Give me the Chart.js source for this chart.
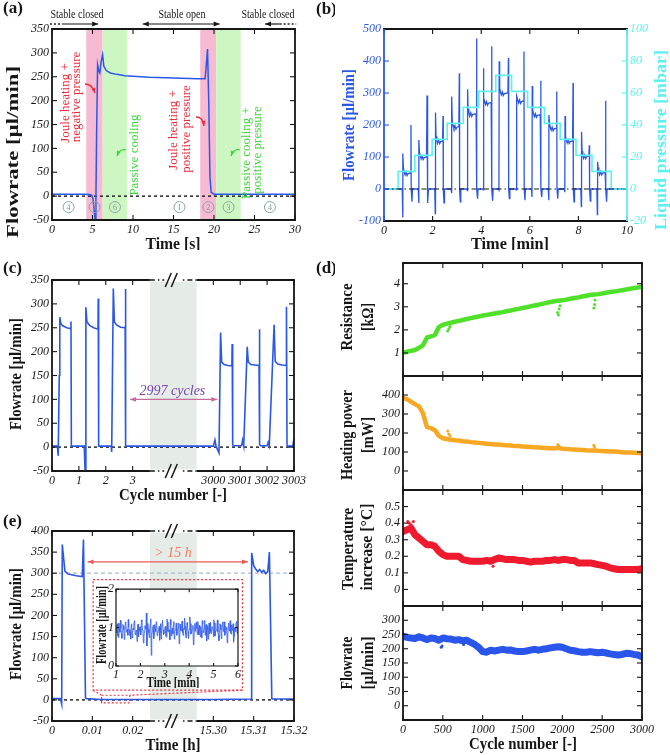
<!DOCTYPE html>
<html>
<head>
<meta charset="utf-8">
<title>Valve flowrate figure</title>
<script src="https://cdn.jsdelivr.net/npm/chart.js@4.4.1/dist/chart.umd.min.js"></script>
<style>
  html, body { margin: 0; padding: 0; background: #fff; }
  body { position: relative; width: 670px; height: 755px; overflow: hidden; }
  canvas { position: absolute; }
</style>
</head>
<body>
<script>
// ---------- (a) one open / close cycle
const aTime = [0, 2, 4, 4.6, 4.9, 5.05, 5.2, 5.33, 5.42, 5.5, 5.63, 5.78, 5.9, 6.05, 6.25, 6.4, 6.7, 7.2, 8, 9,
               10, 12, 14, 16, 18, 18.9, 19.05, 19.2, 19.35, 19.5, 19.65, 20, 22, 26, 30];
const aFlow = [4, 4, 4, 3.5, 2, -5, -30, -50, -10, 120, 275, 262, 258, 280, 296, 272, 263, 258, 255, 252,
               251, 249, 248, 247, 246, 246, 275, 308, 200, 40, 8, 4, 4, 4, 4];
const aHeat = [[4.23, 6.25], [18.3, 20.26]];
const aCool = [[6.25, 9.25], [20.26, 23.3]];
const aPhaseT = [2.05, 5.26, 7.77, 15.74, 19.3, 21.8, 26.9];
const aPhaseN = ['4', '5', '6', '1', '2', '3', '4'];

// ---------- (b) pressure staircase, one valve cycle per step
const bPTime = [0, 0.58, 1.27, 1.98, 2.6, 3.26, 3.9, 4.6, 5.25, 5.91, 6.6, 7.25, 7.9, 8.56, 9.35, 10];
const bPres  = [0, 11, 21, 31, 41, 51, 61, 71, 61, 51, 41, 31, 21, 11, 0, 0];
const bOpen      = [0.78, 1.44, 2.12, 2.79, 3.44, 4.09, 4.74, 5.45, 6.10, 6.79, 7.45, 8.13, 8.79];
const bClose     = [1.11, 1.77, 2.43, 3.10, 3.81, 4.43, 5.12, 5.76, 6.45, 7.11, 7.78, 8.45, 9.12];
const bOpenPeak  = [111, 153, 239, 289, 312, 377, 399, 290, 322, 231, 228, 179, 85];
const bClosePeak = [200, 292, 228, 362, 470, 446, 409, 430, 338, 305, 331, 137, 276];
const bLevel     = [50, 100, 150, 195, 235, 270, 300, 275, 232, 190, 150, 103, 52];
const bOpenNeg   = [-89, -44, -77, -13, -5, -3, -3, -3, -25, -35, -10, -55, -80];
const bCloseNeg  = [-40, -44, -43, -40, -30, -37, -30, -35, -25, -30, -40, -38, -40];

// ---------- (c) first and last cycles (cycle number)
const cCyc = [0, 0.2, 0.23, 0.27, 0.29, 0.33, 0.4, 0.55, 0.7, 0.706, 0.72, 0.74,
              1.2, 1.23, 1.26, 1.3, 1.4, 1.55, 1.71, 1.72, 1.735, 1.76,
              2.2, 2.22, 2.28, 2.32, 2.4, 2.55, 2.72, 2.73, 2.745, 2.77,
              3000.0, 3000.06, 3000.1, 3000.21, 3000.27, 3000.31, 3000.4, 3000.55, 3000.69, 3000.70, 3000.72, 3000.75,
              3001.05, 3001.09, 3001.13, 3001.26, 3001.3, 3001.4, 3001.55, 3001.70, 3001.71, 3001.73, 3001.76,
              3002.0, 3002.04, 3002.08, 3002.26, 3002.3, 3002.4, 3002.55, 3002.71, 3002.72, 3002.74, 3002.77,
              3002.95, 3003.0];
const cFlow = [2, 2, -18, 150, 272, 258, 254, 250, 248, 263, 2, 2,
               2, -50, 293, 262, 255, 250, 247, 311, 2, 2,
               2, -10, 332, 262, 256, 251, 250, 331, 2, 2,
               2, 15, 2, -12, 240, 178, 173, 171, 170, 216, 5, 3,
               3, 15, 3, 210, 178, 173, 172, 171, 247, 5, 3,
               3, 10, 3, 256, 180, 174, 172, 171, 294, 4, 2,
               2, 18];
const cTicks = [0, 1, 2, 3, 3000, 3001, 3002, 3003];

// ---------- (d) long-term evolution, every 50 cycles
const dCycles = [];
for (let n = 0; n <= 3000; n += 50) dCycles.push(n);
const dRes = [1.00, 1.05, 1.09, 1.13, 1.22, 1.33, 1.66, 1.72, 1.78, 2.12,
              2.22, 2.27, 2.31, 2.35, 2.39, 2.43, 2.47, 2.51, 2.55, 2.58,
              2.62, 2.65, 2.68, 2.71, 2.74, 2.77, 2.81, 2.84, 2.88, 2.91,
              2.95, 2.98, 3.02, 3.06, 3.09, 3.13, 3.17, 3.21, 3.24, 3.26,
              3.28, 3.31, 3.35, 3.38, 3.41, 3.45, 3.48, 3.51, 3.53, 3.55,
              3.58, 3.61, 3.64, 3.66, 3.69, 3.72, 3.75, 3.78, 3.81, 3.84, 3.87];
const dResOutC = [560, 575, 590, 1940, 1950, 1960, 1970, 2395, 2405, 2410];
const dResOutV = [1.95, 2.05, 2.15, 2.75, 2.65, 2.9, 3.05, 2.95, 3.1, 3.3];
const dPow = [385, 378, 365, 352, 340, 305, 232, 226, 215, 185,
              172, 168, 165, 162, 160, 157, 155, 152, 150, 148,
              146, 144, 142, 140, 139, 137, 135, 134, 132, 131,
              129, 128, 126, 125, 124, 122, 121, 120, 119, 122,
              117, 116, 114, 113, 112, 111, 109, 108, 108, 106,
              105, 104, 103, 102, 101, 99, 98, 97, 96, 95, 93];
const dPowOutC = [560, 575, 590, 1945, 1955, 1965, 2395, 2405];
const dPowOutV = [210, 195, 185, 140, 132, 128, 135, 125];
const dTemp = [0.35, 0.36, 0.37, 0.33, 0.31, 0.29, 0.27, 0.27, 0.26, 0.23,
               0.21, 0.20, 0.20, 0.20, 0.20, 0.18, 0.175, 0.17, 0.17, 0.17,
               0.17, 0.175, 0.17, 0.18, 0.19, 0.185, 0.18, 0.18, 0.18, 0.175,
               0.175, 0.17, 0.165, 0.17, 0.17, 0.17, 0.175, 0.175, 0.18, 0.175,
               0.18, 0.18, 0.175, 0.175, 0.16, 0.16, 0.16, 0.16, 0.155, 0.15,
               0.145, 0.14, 0.13, 0.125, 0.12, 0.12, 0.12, 0.12, 0.12, 0.12, 0.125];
const dTempOutC = [60, 80, 100, 130, 1130];
const dTempOutV = [0.41, 0.40, 0.39, 0.41, 0.14];
const dFlow = [245, 240, 238, 236, 242, 238, 232, 238, 236, 230,
               238, 235, 234, 230, 232, 228, 230, 222, 215, 205,
               190, 188, 195, 192, 195, 198, 195, 196, 192, 190,
               190, 192, 195, 198, 195, 198, 200, 203, 205, 207,
               205, 200, 195, 193, 190, 188, 188, 190, 188, 186,
               188, 185, 182, 180, 178, 180, 184, 183, 180, 178, 172];
const dFlowOutC = [480, 490, 760, 780];
const dFlowOutV = [205, 210, 215, 225];

// ---------- (e) 15 h closed period (hours)
const eHours = [0, 0.0021, 0.0024, 0.00255, 0.0032, 0.004, 0.006, 0.0075, 0.0078, 0.0083, 0.0086, 0.012, 0.02,
                15.3, 15.3094, 15.3095, 15.3100, 15.3105, 15.311, 15.3115, 15.312, 15.3125, 15.313, 15.3135,
                15.3139, 15.3145, 15.3148, 15.32];
const eFlow = [3, 3, -10, 368, 305, 298, 294, 292, 380, 5, 3, 1, 1,
               1, 2, 348, 318, 310, 304, 309, 302, 307, 299, 304,
               350, 3, 2, 2];
const eTicks = [0, 0.01, 0.02, 15.30, 15.31, 15.32];
const eTickLabels = ['0', '0.01', '0.02', '15.30', '15.31', '15.32'];
// inset: leak flow while closed, 1..6 min (two interleaved sample sets)
const insetA = [0.92, 1.05, 0.78, 1.12, 0.88, 0.98, 0.72, 1.08, 0.95, 0.85, 1.15, 0.9, 0.8, 1.02, 0.96, 0.7, 1.1, 0.88,
                0.94, 1.18, 0.82, 0.9, 1.05, 0.76, 0.99, 0.87, 1.2, 0.93, 0.6, 0.9, 1.0, 1.38, 0.85, 0.95, 0.74, 1.1,
                0.28, 0.9, 1.06, 0.83, 0.97, 1.15, 0.79, 0.92, 1.03, 0.88, 0.7, 1.12, 0.94, 0.86, 1.0, 0.78, 1.22,
                0.9, 0.95, 0.68, 1.08, 0.92, 0.84, 1.16, 0.9, 1.0, 0.8, 0.96, 1.12, 0.74, 0.93, 1.05, 0.87, 0.98,
                1.25, 0.82, 0.9, 1.04, 0.72, 0.95, 1.1, 0.88, 0.96, 0.55, 1.0, 0.9, 1.14, 0.82, 0.97, 1.06, 0.76,
                0.92, 1.18, 0.88, 0.98, 0.8, 1.08, 0.93, 0.7, 1.12, 0.9, 0.85, 1.02, 0.95, 1.2, 0.78, 0.9, 1.05,
                0.88, 0.66, 1.1, 0.94, 0.86, 1.15, 0.9, 0.8, 1.03, 0.96, 0.72, 1.12, 0.91, 0.87, 1.07, 0.93, 0.62,
                1.0, 0.9, 1.16, 0.85];
const insetB = [0.86, 1.1, 0.74, 0.97, 1.19, 0.83, 0.91, 1.04, 0.69, 1.13, 0.88, 0.95, 1.21, 0.8, 0.9, 1.07, 0.73, 0.98,
                1.16, 0.85, 0.93, 0.64, 1.09, 0.9, 1.02, 0.81, 1.17, 0.92, 0.77, 1.05, 0.96, 0.52, 1.11, 0.87, 0.94, 1.23,
                0.79, 0.99, 0.71, 1.08, 0.9, 1.14, 0.84, 0.95, 0.67, 1.1, 0.92, 1.19, 0.82, 0.97, 1.03, 0.75, 1.15,
                0.89, 0.94, 1.21, 0.78, 0.99, 1.06, 0.7, 0.93, 1.12, 0.86, 1.01, 0.58, 1.09, 0.91, 1.17, 0.8, 0.96,
                1.04, 0.73, 1.13, 0.88, 0.95, 1.28, 0.83, 0.92, 1.06, 0.69, 1.11, 0.9, 0.98, 1.16, 0.81, 0.94, 1.02,
                0.74, 1.1, 0.87, 1.19, 0.92, 0.65, 1.05, 0.97, 0.84, 1.14, 0.9, 1.0, 0.76, 1.12, 0.89, 0.95, 1.2,
                0.82, 0.93, 1.07, 0.71, 1.09, 0.91, 1.15, 0.86, 0.99, 0.6, 1.04, 0.92, 1.18, 0.83, 0.96, 1.1, 0.78,
                0.94, 1.13, 0.88, 1.01];
const insetFlow = insetA.flatMap((v, i) => [v, insetB[i]]);
const insetTime = insetFlow.map((v, i) => 1 + 5 * i / (insetFlow.length - 1));

// ---------- helpers
const SERIF = "'Liberation Serif', 'DejaVu Serif', serif";
const INK = '#161616';
const BLUE = '#2b57e6';
const CYAN = '#5cf0f0';

const cU = c => c > 1000 ? c - 2994 : c;                         // broken cycle axis
const eU = h => h > 1 ? (h - 15.32) / 0.01 + 6 : h / 0.01;        // broken time axis
const pts = (xs, ys, f) => xs.map((x, i) => ({ x: f ? f(x) : x, y: ys[i] }));

function txt(ctx, s, x, y, o = {}) {
  ctx.save();
  ctx.font = o.font || ('bold 16px ' + SERIF);
  ctx.fillStyle = o.color || INK;
  ctx.textAlign = o.align || 'center';
  ctx.textBaseline = 'middle';
  ctx.translate(x, y);
  if (o.rot) ctx.rotate(o.rot);
  if (o.len) ctx.scale(o.len / ctx.measureText(s).width, 1);
  ctx.fillText(s, 0, 0);
  ctx.restore();
}
function line(ctx, x1, y1, x2, y2) {
  ctx.beginPath(); ctx.moveTo(x1, y1); ctx.lineTo(x2, y2); ctx.stroke();
}
function head(ctx, x, y, ang, size, color) {
  ctx.save();
  ctx.fillStyle = color;
  ctx.translate(x, y); ctx.rotate(ang);
  ctx.beginPath(); ctx.moveTo(0, 0); ctx.lineTo(-size, -size * 0.4); ctx.lineTo(-size, size * 0.4); ctx.closePath();
  ctx.fill();
  ctx.restore();
}
function arrow(ctx, x1, y1, x2, y2, color, both) {
  ctx.save();
  ctx.strokeStyle = color; ctx.lineWidth = 1.2;
  line(ctx, x1, y1, x2, y2);
  ctx.restore();
  const a = Math.atan2(y2 - y1, x2 - x1);
  head(ctx, x2, y2, a, 6, color);
  if (both) head(ctx, x1, y1, a + Math.PI, 6, color);
}
function curved(ctx, x1, y1, cx, cy, x2, y2, color) {
  ctx.save();
  ctx.strokeStyle = color; ctx.lineWidth = 1.3;
  ctx.beginPath(); ctx.moveTo(x1, y1); ctx.quadraticCurveTo(cx, cy, x2, y2); ctx.stroke();
  ctx.restore();
  head(ctx, x2, y2, Math.atan2(y2 - cy, x2 - cx), 5, color);
}
function hline(c, v, color, dash, lw) {
  const ctx = c.ctx, a = c.chartArea, p = c.scales.y.getPixelForValue(v);
  ctx.save();
  ctx.strokeStyle = color; ctx.lineWidth = lw || 1.3; ctx.setLineDash(dash);
  line(ctx, a.left, p, a.right, p);
  ctx.restore();
}
function band(c, u0, u1, color) {
  const a = c.chartArea, X = c.scales.x;
  const p0 = X.getPixelForValue(u0), p1 = X.getPixelForValue(u1);
  c.ctx.fillStyle = color;
  c.ctx.fillRect(p0, a.top, p1 - p0, a.bottom - a.top);
}

function axisOpts(ax, position, fit) {
  return {
    type: 'linear', position, min: ax.min, max: ax.max,
    grid: { display: false, drawTicks: false },
    border: { display: false },
    afterBuildTicks: s => { s.ticks = ax.ticks.map(v => ({ value: ax.map ? ax.map(v) : v })); },
    afterFit: fit,
    ticks: {
      autoSkip: false, maxRotation: 0, minRotation: 0,
      padding: ax.pad == null ? 3 : ax.pad,
      color: ax.color || INK,
      font: { family: SERIF, size: ax.size || 12, style: 'italic' },
      callback: (v, i) => ax.hide ? '' : (ax.labels ? ax.labels[i] : String(ax.ticks[i]))
    }
  };
}

function drawFrame(c, o) {
  const ctx = c.ctx, a = c.chartArea, X = c.scales.x, Y = c.scales.y;
  const lc = o.lc || INK, rc = o.rc || INK, L = o.tl || 5;
  ctx.lineWidth = 1.1;
  ctx.strokeStyle = INK;
  c.scales.x.ticks.forEach(t => {
    const p = X.getPixelForValue(t.value);
    line(ctx, p, a.bottom, p, a.bottom - L); line(ctx, p, a.top, p, a.top + L);
  });
  ctx.strokeStyle = lc;
  Y.ticks.forEach(t => { const p = Y.getPixelForValue(t.value); line(ctx, a.left, p, a.left + L, p); });
  ctx.strokeStyle = rc;
  const R = c.scales.y2 || Y;
  R.ticks.forEach(t => { const p = R.getPixelForValue(t.value); line(ctx, a.right, p, a.right - L, p); });
  ctx.lineWidth = o.fw || 1.8;
  const h = ctx.lineWidth / 2;
  ctx.strokeStyle = INK;
  line(ctx, a.left - h, a.top, a.right + h, a.top);
  line(ctx, a.left - h, a.bottom, a.right + h, a.bottom);
  ctx.strokeStyle = lc; line(ctx, a.left, a.top, a.left, a.bottom);
  ctx.strokeStyle = rc; line(ctx, a.right, a.top, a.right, a.bottom);
}

function drawBreak(c, u0, u1) {
  const ctx = c.ctx, a = c.chartArea, X = c.scales.x;
  const p0 = X.getPixelForValue(u0), p1 = X.getPixelForValue(u1), m = (p0 + p1) / 2;
  [a.top, a.bottom].forEach(y => {
    ctx.fillStyle = '#fff';
    ctx.fillRect(p0, y - 1.5, p1 - p0, 3);
    ctx.strokeStyle = INK; ctx.lineWidth = 1.4;
    ctx.setLineDash([5, 3, 1.5, 3]); line(ctx, p0, y, p1, y); ctx.setLineDash([]);
    ctx.fillRect(m - 9, y - 2, 18, 4);
    ctx.lineWidth = 1.5;
    line(ctx, m - 8, y + 7, m - 2, y - 7);
    line(ctx, m - 2, y + 7, m + 4, y - 7);
  });
}

function panel(o) {
  const cv = document.createElement('canvas');
  cv.width = o.w; cv.height = o.h;
  cv.style.left = o.left + 'px';
  cv.style.top = o.top + 'px';
  document.body.appendChild(cv);
  const A = o.area;
  const scales = {
    x: axisOpts(o.x, 'bottom', s => { s.height = o.h - A.b; }),
    y: axisOpts(o.y, 'left', s => { s.width = A.l; })
  };
  if (o.y2) scales.y2 = axisOpts(o.y2, 'right', s => { s.width = o.w - A.r; });
  const deco = {
    id: 'deco',
    beforeDatasetsDraw(c) {
      const ctx = c.ctx, a = c.chartArea;
      ctx.save();
      if (o.bg) { ctx.fillStyle = o.bg; ctx.fillRect(a.left, a.top, a.right - a.left, a.bottom - a.top); }
      if (o.under) o.under(c, ctx);
      ctx.restore();
    },
    afterDraw(c) {
      const ctx = c.ctx;
      ctx.save(); drawFrame(c, o); ctx.restore();
      if (o.over) { ctx.save(); o.over(c, ctx); ctx.restore(); }
      if (o.page) { ctx.save(); ctx.translate(-o.left, -o.top); o.page(ctx); ctx.restore(); }
    }
  };
  return new Chart(cv, {
    type: 'line',
    data: { datasets: o.datasets },
    options: {
      responsive: false, animation: false, devicePixelRatio: 1,
      layout: { padding: { left: 0, top: A.t, right: o.y2 ? 0 : o.w - A.r, bottom: 0 } },
      plugins: { legend: { display: false }, tooltip: { enabled: false } },
      elements: { point: { radius: 0 }, line: { tension: 0, borderWidth: 1.4 } },
      scales
    },
    plugins: [deco]
  });
}

const flowLine = (data, color, w) => ({ data, borderColor: color, borderWidth: w || 1.4, pointRadius: 0 });
const dots = (data, color, r) => ({ data, showLine: false, pointRadius: r || 1.4, pointBorderWidth: 0,
                                   pointBackgroundColor: color, borderColor: color });

// ---------- (a)
panel({
  left: 0, top: 0, w: 335, h: 250, area: { l: 52, t: 29, r: 295, b: 220 },
  x: { min: 0, max: 30, ticks: [0, 5, 10, 15, 20, 25, 30] },
  y: { min: -50, max: 350, ticks: [-50, 0, 50, 100, 150, 200, 250, 300, 350] },
  datasets: [flowLine(pts(aTime, aFlow), BLUE, 1.5)],
  under(c) {
    aHeat.forEach(b => band(c, b[0], b[1], '#f6bad3'));
    aCool.forEach(b => band(c, b[0], b[1], '#cdf7c2'));
    hline(c, 0, INK, [3, 3], 1.4);
  },
  over(c, ctx) {
    const X = c.scales.x, Y = c.scales.y, a = c.chartArea;
    ctx.strokeStyle = '#8aa6a6'; ctx.lineWidth = 1;
    aPhaseT.forEach((t, i) => {
      const px = X.getPixelForValue(t), py = Y.getPixelForValue(-23);
      ctx.beginPath(); ctx.arc(px, py, 5.5, 0, 2 * Math.PI); ctx.stroke();
      txt(ctx, aPhaseN[i], px, py + 0.5, { font: '8px ' + SERIF, color: '#7c9a9a' });
    });
    const y = a.top - 5, P = v => X.getPixelForValue(v);
    ctx.strokeStyle = INK; ctx.lineWidth = 1.4; ctx.setLineDash([2, 2]);
    line(ctx, P(-0.25), y, P(1.2), y); line(ctx, P(28.1), y, P(30.15), y);
    ctx.setLineDash([]);
    arrow(ctx, P(1.2), y, P(5.7), y, INK);
    arrow(ctx, P(11.2), y, P(20.7), y, INK, true);
    arrow(ctx, P(28.1), y, P(26.3), y, INK);
  },
  page(ctx) {
    txt(ctx, '(a)', 3, 9, { font: 'bold 17px ' + SERIF, align: 'left' });
    txt(ctx, '(b)', 316, 10, { font: 'bold 17px ' + SERIF, align: 'left' });
    const sf = '13px ' + SERIF;
    txt(ctx, 'Stable closed', 77, 15, { font: sf, len: 53 });
    txt(ctx, 'Stable open', 182, 15, { font: sf, len: 47 });
    txt(ctx, 'Stable closed', 268, 15, { font: sf, len: 53 });
    const R = '#ee2b3b', G = '#3ed43a', up = -Math.PI / 2, rf = '13px ' + SERIF;
    txt(ctx, 'Joule heating +', 66, 103, { font: rf, color: R, rot: up });
    txt(ctx, 'negative pressure', 77, 97, { font: rf, color: R, rot: up });
    txt(ctx, 'Joule heating +', 174, 130, { font: rf, color: R, rot: up });
    txt(ctx, 'positive pressure', 187, 129, { font: rf, color: R, rot: up });
    txt(ctx, 'Passive cooling', 135, 155, { font: rf, color: G, rot: up });
    txt(ctx, 'Passive cooling +', 247, 153, { font: rf, color: G, rot: up });
    txt(ctx, 'positive pressure', 258, 150, { font: rf, color: G, rot: up });
    curved(ctx, 85, 84, 92, 84, 95, 93, R);
    curved(ctx, 196, 117, 203, 117, 204, 126, R);
    curved(ctx, 126, 150, 120, 148, 117, 156, G);
    curved(ctx, 240, 150, 234, 148, 231, 156, G);
    txt(ctx, 'Time [s]', 173, 245, { len: 55 });
    txt(ctx, 'Flowrate [µl/min]', 14, 152, { rot: up, len: 172 });
  }
});

// ---------- (b)
const bT = [0], bF = [0];
bOpen.forEach((o, i) => {
  const c = bClose[i], L = bLevel[i];
  bT.push(o - 0.03, o - 0.01, o, o + 0.02, o + 0.05, o + 0.09, o + 0.13, o + 0.17, o + 0.21, c - 0.02, c, c + 0.01, c + 0.04, c + 0.06);
  bF.push(0, bOpenNeg[i], bOpenPeak[i], L + 15, L + 4, L - 6, L + 3, L - 8, L - 2, L, bClosePeak[i], 0, bCloseNeg[i], 0);
});
bT.push(10); bF.push(0);

panel({
  left: 335, top: 0, w: 335, h: 250, area: { l: 49, t: 29, r: 292, b: 221 },
  x: { min: 0, max: 10, ticks: [0, 2, 4, 6, 8, 10] },
  y: { min: -100, max: 500, ticks: [-100, 0, 100, 200, 300, 400, 500], color: BLUE },
  y2: { min: -20, max: 100, ticks: [-20, 0, 20, 40, 60, 80, 100], color: CYAN },
  lc: BLUE, rc: CYAN,
  datasets: [
    { data: [{ x: 0, y: 0 }, { x: 10, y: 0 }], borderColor: INK, borderWidth: 1.2, borderDash: [5, 3, 1.5, 3] },
    { data: pts(bPTime, bPres), yAxisID: 'y2', borderColor: CYAN, borderWidth: 1.6, stepped: 'before' },
    flowLine(pts(bT, bF), BLUE, 1.3)
  ],
  page(ctx) {
    const up = -Math.PI / 2;
    txt(ctx, 'Time [min]', 510, 245, { len: 78 });
    txt(ctx, 'Flowrate [µl/min]', 350, 125, { rot: up, len: 112, color: BLUE });
    txt(ctx, 'Liquid pressure [mbar]', 662, 140, { rot: up, len: 180, color: CYAN });
  }
});

// ---------- (c)
panel({
  left: 0, top: 250, w: 335, h: 256, area: { l: 52, t: 30, r: 294, b: 221 },
  x: { min: 0, max: 9, ticks: cTicks, map: cU },
  y: { min: -50, max: 350, ticks: [-50, 0, 50, 100, 150, 200, 250, 300, 350] },
  datasets: [flowLine(pts(cCyc, cFlow, cU), BLUE, 1.6)],
  under(c) {
    band(c, 3.64, 5.38, '#e5ebe7');
    hline(c, 0, INK, [3, 3], 1.4);
  },
  over(c, ctx) {
    const X = c.scales.x, Y = c.scales.y;
    drawBreak(c, 3.64, 5.38);
    const y = Y.getPixelForValue(100);
    arrow(ctx, X.getPixelForValue(2.9), y, X.getPixelForValue(6.15), y, '#c86a9a', true);
    txt(ctx, '2997 cycles', X.getPixelForValue(4.48), Y.getPixelForValue(117),
        { font: 'italic 14px ' + SERIF, color: '#7b45ad' });
  },
  page(ctx) {
    txt(ctx, '(c)', 3, 269, { font: 'bold 17px ' + SERIF, align: 'left' });
    txt(ctx, '(d)', 316, 269, { font: 'bold 17px ' + SERIF, align: 'left' });
    txt(ctx, 'Cycle number [-]', 173, 496, { len: 108 });
    txt(ctx, 'Flowrate [µl/min]', 17, 374, { rot: -Math.PI / 2, len: 112 });
  }
});

// ---------- (d) four stacked panels
const dX = { min: 0, max: 3000, ticks: [0, 500, 1000, 1500, 2000, 2500, 3000] };
function dPanel(top, h, b, y, vals, outC, outV, color, bw, titles, last) {
  panel({
    left: 335, top, w: 335, h, area: { l: 68, t: 12, r: 307, b },
    x: Object.assign({}, dX, { hide: !last }),
    y,
    datasets: [
      dots(pts(outC, outV), color, 1.5),
      Object.assign(flowLine(pts(dCycles, vals), color, bw), { borderCapStyle: 'round', borderJoinStyle: 'round' })
    ],
    page(ctx) {
      const up = -Math.PI / 2;
      titles.forEach(t => txt(ctx, t[0], t[1], t[2], { rot: up, len: t[3] }));
      if (last) txt(ctx, 'Cycle number [-]', 523, 745, { len: 108 });
    }
  });
}
dPanel(251, 137, 125, { min: 0, max: 4.9, ticks: [1, 2, 3, 4] }, dRes, dResOutC, dResOutV, '#4fe02a', 4.5,
       [['Resistance', 348, 317, 67], ['[kΩ]', 369, 317, 28]]);
dPanel(364, 138, 126, { min: -100, max: 500, ticks: [0, 100, 200, 300, 400] }, dPow, dPowOutC, dPowOutV, '#f7a823', 4.5,
       [['Heating power', 348, 435, 90], ['[mW]', 369, 435, 36]]);
dPanel(478, 140, 128, { min: -0.1, max: 0.6, ticks: [0, 0.1, 0.2, 0.3, 0.4, 0.5] }, dTemp, dTempOutC, dTempOutV, '#f01a2e', 7,
       [['Temperature', 349, 549, 82], ['increase [°C]', 368, 547, 87]]);
dPanel(594, 161, 126, { min: -50, max: 350, ticks: [0, 50, 100, 150, 200, 250, 300] }, dFlow, dFlowOutC, dFlowOutV, '#2a55ea', 7,
       [['Flowrate', 348, 663, 53], ['[µl/min]', 369, 663, 53]], true);

// ---------- (e)
panel({
  left: 0, top: 480, w: 335, h: 275, area: { l: 52, t: 51, r: 294, b: 241 },
  x: { min: 0, max: 6, ticks: eTicks, map: eU, labels: eTickLabels },
  y: { min: -50, max: 400, ticks: [-50, 0, 50, 100, 150, 200, 250, 300, 350, 400] },
  datasets: [flowLine(pts(eHours, eFlow, eU), BLUE, 1.6)],
  under(c) {
    band(c, 2.43, 3.59, '#e5ebe7');
    hline(c, 300, '#a6bccb', [4, 3], 1.3);
    hline(c, 0, INK, [3, 3], 1.4);
  },
  over(c, ctx) {
    const X = c.scales.x, Y = c.scales.y;
    const P = (u, v) => [X.getPixelForValue(u), Y.getPixelForValue(v)];
    drawBreak(c, 2.43, 3.59);
    const y = Y.getPixelForValue(327);
    arrow(ctx, X.getPixelForValue(0.88), y, X.getPixelForValue(4.86), y, '#f05a5a', true);
    txt(ctx, '> 15 h', X.getPixelForValue(3.0), Y.getPixelForValue(347), { font: 'italic 14px ' + SERIF, color: '#f47a5c' });
    ctx.strokeStyle = '#ea3040'; ctx.lineWidth = 1.2; ctx.setLineDash([2, 2]);
    const [bx0, by0] = P(1.02, 285), [bx1, by1] = P(4.72, 23);
    ctx.strokeRect(bx0, by0, bx1 - bx0, by1 - by0);
    const [sx0, sy0] = P(1.23, 11), [sx1, sy1] = P(1.93, -7);
    ctx.strokeRect(sx0, sy0, sx1 - sx0, sy1 - sy0);
    line(ctx, bx0, by1, sx0, sy0);
    line(ctx, bx1, by1, sx1, sy0);
    ctx.setLineDash([]);
  },
  page(ctx) {
    txt(ctx, '(e)', 3, 522, { font: 'bold 17px ' + SERIF, align: 'left' });
    txt(ctx, 'Time [h]', 173, 746, { len: 55 });
    txt(ctx, 'Flowrate [µl/min]', 17, 624, { rot: -Math.PI / 2, len: 112 });
  }
});

// ---------- (e) inset
panel({
  left: 94, top: 580, w: 150, h: 108, area: { l: 22, t: 6, r: 144, b: 86 },
  x: { min: 1, max: 6, ticks: [1, 2, 3, 4, 5, 6], pad: 2 },
  y: { min: 0, max: 2, ticks: [0, 1, 2], pad: 2 },
  bg: '#fff', fw: 1.2, tl: 3,
  datasets: [flowLine(pts(insetTime, insetFlow), '#3a63ea', 0.9)],
  page(ctx) {
    txt(ctx, 'Time [min]', 173, 683, { font: 'bold 14px ' + SERIF, len: 53 });
    txt(ctx, 'Flowrate [µl/min]', 102, 625, { font: 'bold 14px ' + SERIF, rot: -Math.PI / 2, len: 78 });
  }
});
</script>
</body>
</html>
